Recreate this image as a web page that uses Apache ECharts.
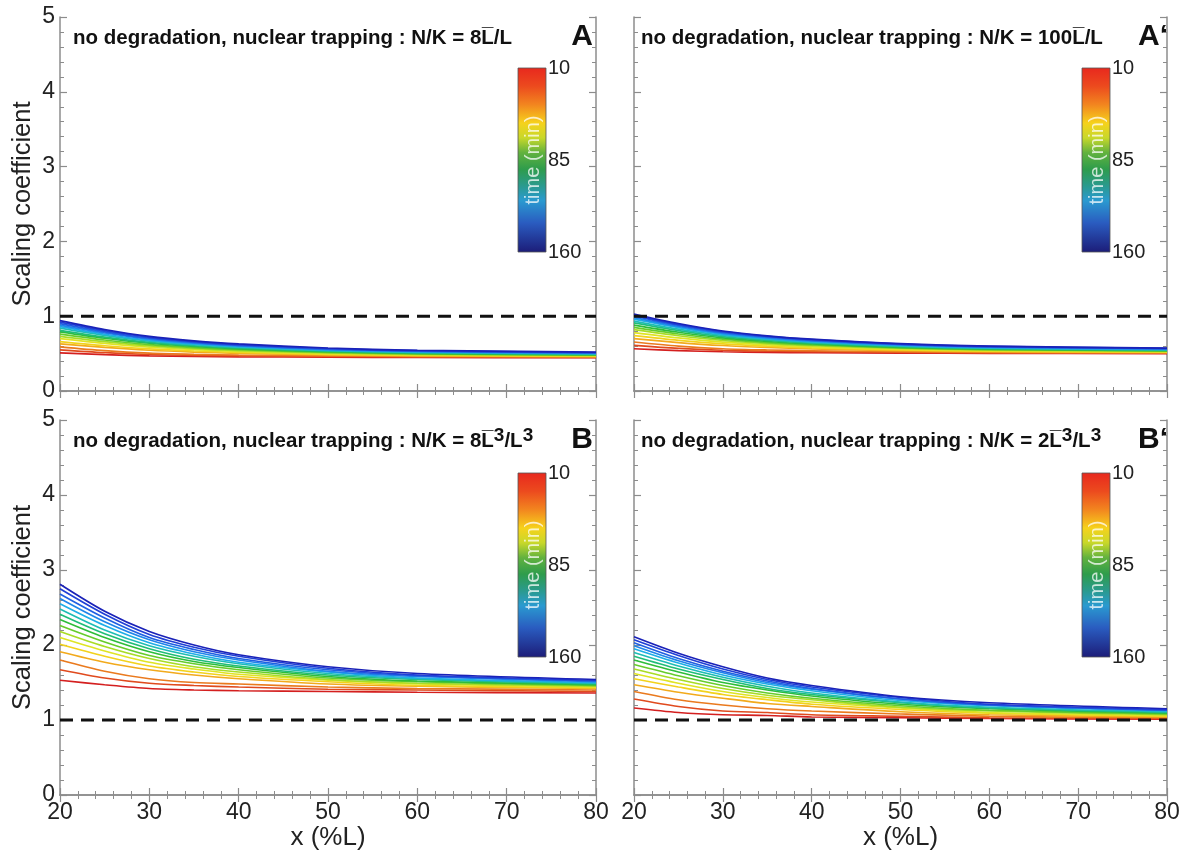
<!DOCTYPE html>
<html>
<head>
<meta charset="utf-8">
<script src="https://cdn.jsdelivr.net/npm/echarts@6/dist/echarts.min.js"></script>
<style>
html,body{margin:0;padding:0;background:#fff;}
#chart{width:1193px;height:852px;}
</style>
</head>
<body>
<div id="chart"></div>
<script>
// ---------------- data ----------------
const xValues = [20, 25, 30, 35, 40, 50, 60, 80];           // x (%L)
const times = [10, 20, 30, 40, 50, 60, 70, 80, 90, 100, 110, 120, 130, 140, 150, 160]; // min
const refLevel = [1, 1];                                       // dashed reference at 1
const colorbarTicks = ['10', '85', '160'];

// Panel A : N/K = 8L/L
const curvesA = [
  [0.510,0.485,0.470,0.462,0.457,0.452,0.448,0.445],
  [0.550,0.512,0.488,0.476,0.469,0.461,0.455,0.450],
  [0.590,0.539,0.506,0.490,0.481,0.470,0.462,0.455],
  [0.630,0.582,0.545,0.521,0.504,0.482,0.470,0.460],
  [0.660,0.605,0.563,0.535,0.516,0.490,0.477,0.465],
  [0.700,0.636,0.585,0.553,0.530,0.500,0.484,0.470],
  [0.730,0.659,0.603,0.567,0.541,0.508,0.490,0.475],
  [0.760,0.682,0.620,0.581,0.553,0.516,0.497,0.480],
  [0.790,0.705,0.638,0.595,0.564,0.525,0.503,0.485],
  [0.810,0.720,0.650,0.605,0.573,0.532,0.509,0.490],
  [0.840,0.743,0.668,0.619,0.585,0.540,0.516,0.495],
  [0.860,0.759,0.680,0.630,0.594,0.547,0.522,0.500],
  [0.880,0.775,0.693,0.640,0.603,0.554,0.528,0.505],
  [0.900,0.791,0.705,0.650,0.611,0.561,0.533,0.510],
  [0.920,0.807,0.718,0.661,0.620,0.568,0.539,0.515],
  [0.940,0.822,0.730,0.671,0.629,0.575,0.545,0.520]
];
// Panel A' : N/K = 100L/L
const curvesA2 = [
  [0.565,0.540,0.525,0.517,0.512,0.507,0.503,0.500],
  [0.610,0.570,0.545,0.532,0.525,0.517,0.510,0.505],
  [0.655,0.600,0.565,0.548,0.538,0.526,0.517,0.510],
  [0.700,0.648,0.608,0.582,0.563,0.539,0.526,0.515],
  [0.740,0.678,0.630,0.599,0.577,0.549,0.533,0.520],
  [0.780,0.709,0.653,0.617,0.591,0.558,0.540,0.525],
  [0.820,0.739,0.675,0.634,0.605,0.568,0.547,0.530],
  [0.850,0.762,0.693,0.648,0.617,0.576,0.554,0.535],
  [0.880,0.785,0.710,0.662,0.628,0.584,0.560,0.540],
  [0.910,0.808,0.728,0.676,0.640,0.592,0.567,0.545],
  [0.935,0.827,0.743,0.689,0.650,0.600,0.573,0.550],
  [0.960,0.847,0.758,0.701,0.660,0.608,0.579,0.555],
  [0.980,0.862,0.770,0.711,0.669,0.615,0.585,0.560],
  [1.000,0.878,0.783,0.722,0.678,0.622,0.591,0.565],
  [1.015,0.890,0.793,0.730,0.686,0.628,0.597,0.570],
  [1.030,0.902,0.802,0.738,0.693,0.633,0.601,0.574]
];
// Panel B : N/K = 8L^3/L^3
const curvesB = [
  [1.53,1.47,1.42,1.40,1.39,1.38,1.37,1.36],
  [1.67,1.56,1.49,1.46,1.44,1.41,1.40,1.38],
  [1.80,1.65,1.55,1.50,1.48,1.44,1.42,1.40],
  [1.91,1.77,1.67,1.60,1.55,1.48,1.45,1.42],
  [2.01,1.85,1.72,1.64,1.58,1.51,1.46,1.43],
  [2.10,1.92,1.77,1.68,1.61,1.53,1.48,1.44],
  [2.18,1.98,1.82,1.71,1.64,1.54,1.49,1.45],
  [2.26,2.04,1.86,1.75,1.67,1.56,1.51,1.46],
  [2.34,2.10,1.91,1.78,1.70,1.58,1.52,1.47],
  [2.41,2.15,1.95,1.81,1.72,1.60,1.54,1.48],
  [2.48,2.20,1.99,1.85,1.75,1.62,1.55,1.49],
  [2.55,2.26,2.03,1.88,1.77,1.64,1.56,1.50],
  [2.62,2.31,2.07,1.91,1.80,1.65,1.58,1.51],
  [2.68,2.36,2.10,1.94,1.82,1.67,1.59,1.52],
  [2.75,2.41,2.14,1.97,1.85,1.69,1.60,1.53],
  [2.81,2.45,2.18,2.00,1.87,1.71,1.62,1.54]
];
// Panel B' : N/K = 2L^3/L^3
const curvesB2 = [
  [1.16,1.10,1.07,1.06,1.04,1.03,1.02,1.01],
  [1.28,1.18,1.12,1.10,1.07,1.05,1.03,1.02],
  [1.38,1.27,1.20,1.15,1.12,1.08,1.05,1.03],
  [1.47,1.37,1.29,1.22,1.18,1.11,1.07,1.04],
  [1.55,1.44,1.34,1.27,1.21,1.14,1.09,1.05],
  [1.62,1.49,1.38,1.30,1.24,1.16,1.10,1.06],
  [1.68,1.54,1.42,1.33,1.27,1.17,1.12,1.07],
  [1.74,1.59,1.46,1.36,1.29,1.19,1.13,1.08],
  [1.80,1.64,1.50,1.40,1.32,1.21,1.15,1.09],
  [1.85,1.68,1.54,1.42,1.34,1.23,1.16,1.10],
  [1.90,1.72,1.57,1.45,1.36,1.24,1.17,1.11],
  [1.95,1.76,1.60,1.48,1.39,1.26,1.19,1.12],
  [1.99,1.79,1.63,1.50,1.41,1.28,1.20,1.13],
  [2.03,1.82,1.65,1.52,1.42,1.28,1.20,1.13],
  [2.07,1.86,1.68,1.54,1.44,1.30,1.21,1.14],
  [2.11,1.89,1.71,1.56,1.46,1.31,1.23,1.15]
];

const panelCurves = [curvesA, curvesA2, curvesB, curvesB2];
const panelLetters = ['A', 'A\u2018', 'B', 'B\u2018'];
const panelTitles = [
  '{t|no degradation, nuclear trapping : N/K = 8L\u0305/L}',
  '{t|no degradation, nuclear trapping : N/K = 100L\u0305/L}',
  '{t|no degradation, nuclear trapping : N/K = 8L\u0305}{s|3}{t|/L}{s|3}',
  '{t|no degradation, nuclear trapping : N/K = 2L\u0305}{s|3}{t|/L}{s|3}'
];

// ---------------- styles / layout ----------------
const FONT = '"Liberation Sans", Arial, "DejaVu Sans", sans-serif';
const curveColors = ['#d41f1f','#e04a1e','#ea7a1e','#f2aa1c','#f2d21c','#dfe424','#a8dc26','#66cc2c',
                     '#2ebd3a','#20bd78','#1ebdb4','#1eaee6','#1f86ea','#2060e2','#2040d6','#1a22b8'];
const grids = [
  {left: 60,  top: 17,  width: 536, height: 374},
  {left: 634, top: 17,  width: 533, height: 374},
  {left: 60,  top: 420, width: 536, height: 375},
  {left: 634, top: 420, width: 533, height: 375}
];
const cbars = [
  {x: 518,  y: 68,  w: 28, h: 184},
  {x: 1082, y: 68,  w: 28, h: 184},
  {x: 518,  y: 473, w: 28, h: 184},
  {x: 1082, y: 473, w: 28, h: 184}
];
const titlePos = [{x: 73, y: 38}, {x: 641, y: 38}, {x: 73, y: 441}, {x: 641, y: 441}];
const letterPos = [{x: 593, y: 37}, {x: 1168, y: 37}, {x: 593, y: 440}, {x: 1168, y: 440}];

const axisColor = '#8c8c8c';
const xAxes = [], yAxes = [], series = [], graphic = [];

grids.forEach((g, pi) => {
  const isBottom = pi >= 2, isLeft = pi % 2 === 0;
  const baseX = {
    gridIndex: pi, type: 'value', min: 20, max: 80, interval: 10,
    axisLine: {show: true, lineStyle: {color: axisColor, width: 1.5}},
    axisTick: {show: true, inside: true, length: 7, lineStyle: {color: axisColor, width: 1.2}},
    minorTick: {show: true, splitNumber: 5, length: 4, lineStyle: {color: axisColor, width: 1}},
    splitLine: {show: false}, minorSplitLine: {show: false}
  };
  xAxes.push(Object.assign({}, baseX, {
    position: 'bottom',
    axisLabel: {show: isBottom, fontSize: 23, color: '#222', margin: 6, fontFamily: FONT},
    name: isBottom ? 'x (%L)' : '', nameLocation: 'middle', nameGap: 29,
    nameTextStyle: {fontSize: 26, color: '#222', fontFamily: FONT}
  }));
  xAxes.push(Object.assign({}, baseX, {position: 'top', axisLabel: {show: false}}));
  const baseY = {
    gridIndex: pi, type: 'value', min: 0, max: 5, interval: 1,
    axisLine: {show: true, lineStyle: {color: axisColor, width: 1.5}},
    axisTick: {show: true, inside: true, length: 7, lineStyle: {color: axisColor, width: 1.2}},
    minorTick: {show: true, splitNumber: 5, length: 4, lineStyle: {color: axisColor, width: 1}},
    splitLine: {show: false}, minorSplitLine: {show: false}
  };
  yAxes.push(Object.assign({}, baseY, {
    position: 'left',
    axisLabel: {show: isLeft, fontSize: 23, color: '#222', margin: 5, fontFamily: FONT},
    name: isLeft ? 'Scaling coefficient' : '', nameLocation: 'middle', nameGap: 24,
    nameTextStyle: {fontSize: 25.5, color: '#222', fontFamily: FONT}
  }));
  yAxes.push(Object.assign({}, baseY, {position: 'right', axisLabel: {show: false}}));

  panelCurves[pi].forEach((vals, k) => {
    series.push({
      name: 't=' + times[k] + ' min', type: 'line',
      xAxisIndex: pi * 2, yAxisIndex: pi * 2,
      data: xValues.map((x, i) => [x, vals[i]]),
      smooth: 0.3, symbol: 'none', silent: true,
      lineStyle: {width: 1.7, color: curveColors[k]}, z: 2 + k * 0.01
    });
  });
  series.push({
    type: 'line', xAxisIndex: pi * 2, yAxisIndex: pi * 2,
    data: [[xValues[0], refLevel[0]], [xValues[xValues.length - 1], refLevel[1]]],
    symbol: 'none', silent: true, z: 3,
    lineStyle: {width: 3, color: '#111', type: [13, 8]}
  });

  // title and panel letter
  graphic.push({
    type: 'text', x: titlePos[pi].x, y: titlePos[pi].y, silent: true,
    style: {
      text: panelTitles[pi], verticalAlign: 'middle', align: 'left',
      rich: {
        t: {fontSize: 20.5, fontWeight: 'bold', fontFamily: FONT, fill: '#111', lineHeight: 30},
        s: {fontSize: 19, fontWeight: 'bold', fontFamily: FONT, fill: '#111', lineHeight: 16, verticalAlign: 'top'}
      }
    }
  });
  graphic.push({
    type: 'text', x: letterPos[pi].x, y: letterPos[pi].y, silent: true,
    style: {text: panelLetters[pi], align: 'right', verticalAlign: 'middle',
            font: 'bold 30px ' + FONT, fill: '#111'}
  });

  // colour bar
  const c = cbars[pi];
  graphic.push({
    type: 'rect', silent: true,
    shape: {x: c.x, y: c.y, width: c.w, height: c.h},
    style: {
      stroke: '#555', lineWidth: 0.8,
      fill: new echarts.graphic.LinearGradient(0, 0, 0, 1, [
        {offset: 0.00, color: '#e8281e'},
        {offset: 0.10, color: '#ec4a1e'},
        {offset: 0.20, color: '#f2851f'},
        {offset: 0.30, color: '#f6d21c'},
        {offset: 0.38, color: '#c8d82a'},
        {offset: 0.46, color: '#62b23e'},
        {offset: 0.55, color: '#2e9c4c'},
        {offset: 0.64, color: '#2a9a8e'},
        {offset: 0.72, color: '#2a9ad0'},
        {offset: 0.84, color: '#2a5cc0'},
        {offset: 1.00, color: '#1c1c78'}
      ])
    }
  });
  colorbarTicks.forEach((lab, i) => {
    graphic.push({
      type: 'text', silent: true,
      x: c.x + c.w + 2, y: c.y + (c.h * i) / (colorbarTicks.length - 1),
      style: {text: lab, align: 'left', verticalAlign: 'middle',
              font: '20px ' + FONT, fill: '#222'}
    });
  });
  graphic.push({
    type: 'text', silent: true,
    x: c.x + c.w / 2 + 1, y: c.y + c.h / 2, rotation: Math.PI / 2,
    style: {text: 'time (min)', align: 'center', verticalAlign: 'middle',
            font: '20px ' + FONT, fill: 'rgba(255,255,255,0.75)'}
  });
});

const chart = echarts.init(document.getElementById('chart'), null, {renderer: 'canvas'});
chart.setOption({
  animation: false,
  backgroundColor: '#fff',
  grid: grids,
  xAxis: xAxes,
  yAxis: yAxes,
  series: series,
  graphic: graphic
});
</script>
</body>
</html>
